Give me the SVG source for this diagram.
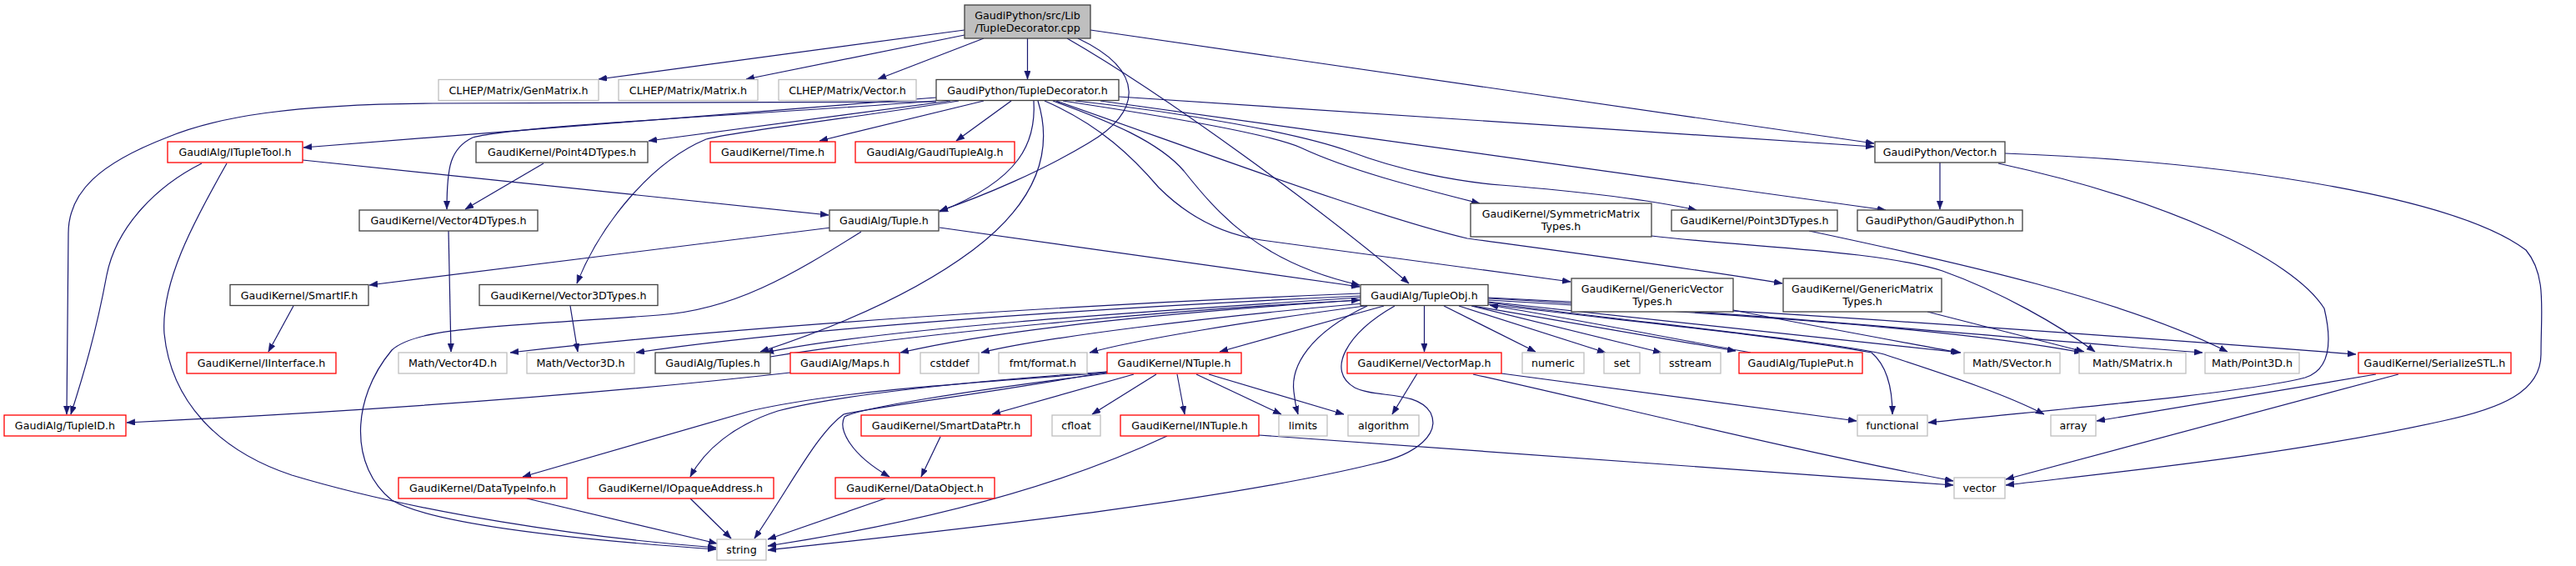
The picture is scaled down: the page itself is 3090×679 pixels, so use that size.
<svg xmlns="http://www.w3.org/2000/svg" width="3090" height="679" viewBox="0 0 3090 679">
<style>
text{font-family:"DejaVu Sans","Liberation Sans",sans-serif;font-size:12.67px;fill:#000;text-anchor:middle}
.n rect{fill:#fff;stroke:#404040;stroke-width:1.3}
.r rect{fill:#fff;stroke:#ff0000;stroke-width:1.3}
.g rect{fill:#fff;stroke:#bfbfbf;stroke-width:1.3}
.t rect{fill:#bfbfbf;stroke:#404040;stroke-width:1.3}
#edges path{fill:none;stroke:#191970;stroke-width:1.2;marker-end:url(#ah)}
</style>
<defs>
<marker id="ah" markerUnits="userSpaceOnUse" markerWidth="11" markerHeight="8" refX="10" refY="3.75" orient="auto">
<path d="M0,0 L10,3.75 L0,7.5 z" fill="#191970" stroke="#191970" stroke-width="0.5"/>
</marker>
</defs>
<rect width="3090" height="679" fill="#fff"/>
<g id="edges">
<path d="M1157,36 L718,95"/>
<path d="M1157,42 L895,95"/>
<path d="M1180,46 L1053,95"/>
<path d="M1232.5,46 L1232.5,95"/>
<path d="M1308,36 L2248,172"/>
<path d="M1280,46 C1400,115 1590,255 1690,340"/>
<path d="M1293,46 C1375,85 1370,135 1305,172 C1250,205 1180,235 1127,253"/>
<path d="M1123,122 L520,124 C350,125 260,140 200,165 C120,196 82,230 82,280 L80,497"/>
<path d="M1123,117 L364,177"/>
<path d="M1123,121 C950,135 620,150 567,165 C540,178 536,200 536,251"/>
<path d="M1140,121 L778,169"/>
<path d="M1150,121 C1000,145 880,158 847,167 C780,195 720,270 692,340"/>
<path d="M1180,121 L983,169"/>
<path d="M1213,121 L1147,169"/>
<path d="M1240,121 C1243,170 1225,215 1127,254"/>
<path d="M1245,121 C1265,185 1240,245 1167,300 C1100,350 1010,390 912,422"/>
<path d="M1263,121 C1330,145 1390,170 1420,205 C1460,255 1510,315 1631,342"/>
<path d="M1253,121 C1320,150 1360,190 1390,225 C1420,255 1460,280 1513,288 L1884,338"/>
<path d="M1267,121 C1450,185 1650,260 1760,286 C1900,305 2050,325 2138,340"/>
<path d="M1275,121 C1400,140 1520,160 1560,177 C1620,205 1700,225 1775,244"/>
<path d="M1290,121 C1420,135 1560,160 1620,182 C1680,205 1750,218 1800,222 C1900,230 1980,240 2035,252"/>
<path d="M1320,121 L2262,252"/>
<path d="M1342,116 L2248,176"/>
<path d="M1127,273 L1631,344"/>
<path d="M997,273 L443,342"/>
<path d="M1033,278 C950,330 880,372 790,378 C600,392 500,392 470,420 C420,480 420,560 470,600 C520,630 700,648 859,659"/>
<path d="M242,196 C190,222 140,270 128,330 C115,400 100,450 85,497"/>
<path d="M272,196 C230,270 193,340 197,400 C205,480 260,540 350,570 C500,615 700,645 859,657"/>
<path d="M363,192 L994,258"/>
<path d="M538,277 L541,422"/>
<path d="M652,196 L558,251"/>
<path d="M352,367 L322,422"/>
<path d="M684,367 L693,422"/>
<path d="M948,447 C700,475 400,495 152,507"/>
<path d="M2327,195 L2327,251"/>
<path d="M2405,184 C2700,195 2950,240 3030,300 C3055,330 3048,370 3048,425 C3048,470 3000,490 2930,505 C2750,545 2550,565 2406,582"/>
<path d="M2397,196 C2600,240 2750,310 2788,370 C2800,420 2790,445 2765,453 C2700,470 2500,488 2313,507"/>
<path d="M2170,277 C2350,315 2550,360 2672,422"/>
<path d="M1981,283 C2100,297 2250,300 2330,325 C2400,350 2470,390 2513,422"/>
<path d="M2079,372 C2180,392 2280,410 2350,423"/>
<path d="M2312,374 L2500,422"/>
<path d="M1632,352 C1300,365 900,390 612,423"/>
<path d="M1632,355 C1300,370 950,395 763,423"/>
<path d="M1632,357 C1350,375 1050,395 918,423"/>
<path d="M924,428 C1100,400 1400,372 1631,360"/>
<path d="M1632,360 C1400,375 1200,395 1080,423"/>
<path d="M1636,364 C1450,380 1250,405 1177,423"/>
<path d="M1645,366 C1500,385 1360,408 1307,423"/>
<path d="M1660,367 L1463,422"/>
<path d="M1640,367 C1570,400 1548,440 1552,470 C1553,480 1555,490 1557,497"/>
<path d="M1673,367 C1615,400 1590,445 1625,465 C1650,478 1700,468 1716,495 C1728,520 1700,545 1650,556 C1450,605 1100,640 921,660"/>
<path d="M1708.5,367 L1708.5,422"/>
<path d="M1732,367 L1842,422"/>
<path d="M1750,367 L1926,423"/>
<path d="M1765,367 L1993,423"/>
<path d="M1767,367 L2082,421"/>
<path d="M2100,423 C2000,405 1900,385 1787,366"/>
<path d="M1785,362 C2000,385 2200,405 2352,423"/>
<path d="M1785,360 C2100,378 2350,395 2498,423"/>
<path d="M1785,358 C2100,375 2400,405 2642,423"/>
<path d="M1785,357 C2100,372 2500,400 2826,425"/>
<path d="M1785,363 C1950,385 2200,410 2260,425 C2320,445 2400,470 2452,497"/>
<path d="M1785,365 C1950,385 2150,405 2245,423 C2265,440 2270,470 2270,497"/>
<path d="M1700,448 L1670,497"/>
<path d="M1801,448 L2227,505"/>
<path d="M1767,449 C1950,490 2150,540 2343,577"/>
<path d="M2850,449 L2515,505"/>
<path d="M2877,449 L2406,575"/>
<path d="M1360,449 L1190,497"/>
<path d="M1387,449 L1310,497"/>
<path d="M1412,449 L1421,497"/>
<path d="M1435,449 L1537,497"/>
<path d="M1450,449 L1612,497"/>
<path d="M1328,448 C1150,470 1030,490 1013,500 C1005,515 1020,545 1067,572"/>
<path d="M1328,446 C1200,470 1050,488 1012,497 C980,520 950,580 905,646"/>
<path d="M1328,446 C1150,458 1000,475 933,493 C880,510 845,540 828,572"/>
<path d="M1328,447 C1150,460 1000,470 900,493 L627,572"/>
<path d="M1128,524 L1105,572"/>
<path d="M828,598 L877,646"/>
<path d="M632,598 L860,652"/>
<path d="M1510,522 L2343,582"/>
<path d="M1400,523 C1300,570 1150,620 921,655"/>
<path d="M1062,598 L921,647"/>
</g>
<g id="n0" class="t"><rect x="1157" y="6" width="151" height="40"/><text x="1232.5" y="23">GaudiPython/src/Lib</text><text x="1232.5" y="37.5">/TupleDecorator.cpp</text></g>
<g id="n1" class="g"><rect x="526" y="95.5" width="192" height="25"/><text x="622" y="112.5">CLHEP/Matrix/GenMatrix.h</text></g>
<g id="n2" class="g"><rect x="742" y="95.5" width="167" height="25"/><text x="825.5" y="112.5">CLHEP/Matrix/Matrix.h</text></g>
<g id="n3" class="g"><rect x="934" y="95.5" width="165" height="25"/><text x="1016.5" y="112.5">CLHEP/Matrix/Vector.h</text></g>
<g id="n4" class="n"><rect x="1123" y="95.5" width="219" height="25"/><text x="1232.5" y="112.5">GaudiPython/TupleDecorator.h</text></g>
<g id="n5" class="n"><rect x="2249" y="170" width="156" height="25"/><text x="2327" y="187">GaudiPython/Vector.h</text></g>
<g id="n6" class="r"><rect x="201" y="170" width="162" height="25"/><text x="282" y="187">GaudiAlg/ITupleTool.h</text></g>
<g id="n7" class="n"><rect x="571" y="170" width="206" height="25"/><text x="674" y="187">GaudiKernel/Point4DTypes.h</text></g>
<g id="n8" class="r"><rect x="852" y="170" width="150" height="25"/><text x="927" y="187">GaudiKernel/Time.h</text></g>
<g id="n9" class="r"><rect x="1026" y="170" width="191" height="25"/><text x="1121.5" y="187">GaudiAlg/GaudiTupleAlg.h</text></g>
<g id="n10" class="n"><rect x="431" y="252" width="214" height="25"/><text x="538" y="269">GaudiKernel/Vector4DTypes.h</text></g>
<g id="n11" class="n"><rect x="995" y="252" width="131" height="25"/><text x="1060.5" y="269">GaudiAlg/Tuple.h</text></g>
<g id="n12" class="n"><rect x="1764" y="244" width="217" height="40"/><text x="1872.5" y="261">GaudiKernel/SymmetricMatrix</text><text x="1872.5" y="275.5">Types.h</text></g>
<g id="n13" class="n"><rect x="2005" y="252" width="199" height="25"/><text x="2104.5" y="269">GaudiKernel/Point3DTypes.h</text></g>
<g id="n14" class="n"><rect x="2228" y="252" width="198" height="25"/><text x="2327" y="269">GaudiPython/GaudiPython.h</text></g>
<g id="n15" class="n"><rect x="276" y="341.5" width="166" height="25"/><text x="359" y="358.5">GaudiKernel/SmartIF.h</text></g>
<g id="n16" class="n"><rect x="575" y="341.5" width="214" height="25"/><text x="682" y="358.5">GaudiKernel/Vector3DTypes.h</text></g>
<g id="n17" class="n"><rect x="1632" y="341.5" width="153" height="25"/><text x="1708.5" y="358.5">GaudiAlg/TupleObj.h</text></g>
<g id="n18" class="n"><rect x="1885" y="334" width="194" height="40"/><text x="1982" y="351">GaudiKernel/GenericVector</text><text x="1982" y="365.5">Types.h</text></g>
<g id="n19" class="n"><rect x="2139" y="334" width="190" height="40"/><text x="2234" y="351">GaudiKernel/GenericMatrix</text><text x="2234" y="365.5">Types.h</text></g>
<g id="n20" class="r"><rect x="224" y="423" width="179" height="25"/><text x="313.5" y="440">GaudiKernel/IInterface.h</text></g>
<g id="n21" class="g"><rect x="478" y="423" width="130" height="25"/><text x="543" y="440">Math/Vector4D.h</text></g>
<g id="n22" class="g"><rect x="632" y="423" width="129" height="25"/><text x="696.5" y="440">Math/Vector3D.h</text></g>
<g id="n23" class="n"><rect x="786" y="423" width="138" height="25"/><text x="855" y="440">GaudiAlg/Tuples.h</text></g>
<g id="n24" class="r"><rect x="948" y="423" width="131" height="25"/><text x="1013.5" y="440">GaudiAlg/Maps.h</text></g>
<g id="n25" class="g"><rect x="1104" y="423" width="70" height="25"/><text x="1139" y="440">cstddef</text></g>
<g id="n26" class="g"><rect x="1198" y="423" width="106" height="25"/><text x="1251" y="440">fmt/format.h</text></g>
<g id="n27" class="r"><rect x="1328" y="423" width="161" height="25"/><text x="1408.5" y="440">GaudiKernel/NTuple.h</text></g>
<g id="n28" class="r"><rect x="1616" y="423" width="185" height="25"/><text x="1708.5" y="440">GaudiKernel/VectorMap.h</text></g>
<g id="n29" class="g"><rect x="1826" y="423" width="74" height="25"/><text x="1863" y="440">numeric</text></g>
<g id="n30" class="g"><rect x="1924" y="423" width="43" height="25"/><text x="1945.5" y="440">set</text></g>
<g id="n31" class="g"><rect x="1991" y="423" width="73" height="25"/><text x="2027.5" y="440">sstream</text></g>
<g id="n32" class="r"><rect x="2086" y="423" width="148" height="25"/><text x="2160" y="440">GaudiAlg/TuplePut.h</text></g>
<g id="n33" class="g"><rect x="2356" y="423" width="115" height="25"/><text x="2413.5" y="440">Math/SVector.h</text></g>
<g id="n34" class="g"><rect x="2494" y="423" width="128" height="25"/><text x="2558" y="440">Math/SMatrix.h</text></g>
<g id="n35" class="g"><rect x="2645" y="423" width="113" height="25"/><text x="2701.5" y="440">Math/Point3D.h</text></g>
<g id="n36" class="r"><rect x="2829" y="423" width="183" height="25"/><text x="2920.5" y="440">GaudiKernel/SerializeSTL.h</text></g>
<g id="n37" class="r"><rect x="5" y="498" width="146" height="25"/><text x="78" y="515">GaudiAlg/TupleID.h</text></g>
<g id="n38" class="r"><rect x="1033" y="498" width="204" height="25"/><text x="1135" y="515">GaudiKernel/SmartDataPtr.h</text></g>
<g id="n39" class="g"><rect x="1262" y="498" width="58" height="25"/><text x="1291" y="515">cfloat</text></g>
<g id="n40" class="r"><rect x="1344" y="498" width="166" height="25"/><text x="1427" y="515">GaudiKernel/INTuple.h</text></g>
<g id="n41" class="g"><rect x="1534" y="498" width="58" height="25"/><text x="1563" y="515">limits</text></g>
<g id="n42" class="g"><rect x="1617" y="498" width="85" height="25"/><text x="1659.5" y="515">algorithm</text></g>
<g id="n43" class="g"><rect x="2228" y="498" width="84" height="25"/><text x="2270" y="515">functional</text></g>
<g id="n44" class="g"><rect x="2460" y="498" width="54" height="25"/><text x="2487" y="515">array</text></g>
<g id="n45" class="r"><rect x="478" y="573" width="202" height="25"/><text x="579" y="590">GaudiKernel/DataTypeInfo.h</text></g>
<g id="n46" class="r"><rect x="705" y="573" width="223" height="25"/><text x="816.5" y="590">GaudiKernel/IOpaqueAddress.h</text></g>
<g id="n47" class="r"><rect x="1002" y="573" width="191" height="25"/><text x="1097.5" y="590">GaudiKernel/DataObject.h</text></g>
<g id="n48" class="g"><rect x="2344" y="573" width="61" height="25"/><text x="2374.5" y="590">vector</text></g>
<g id="n49" class="g"><rect x="860" y="647" width="59" height="25"/><text x="889.5" y="664">string</text></g>
</svg>
